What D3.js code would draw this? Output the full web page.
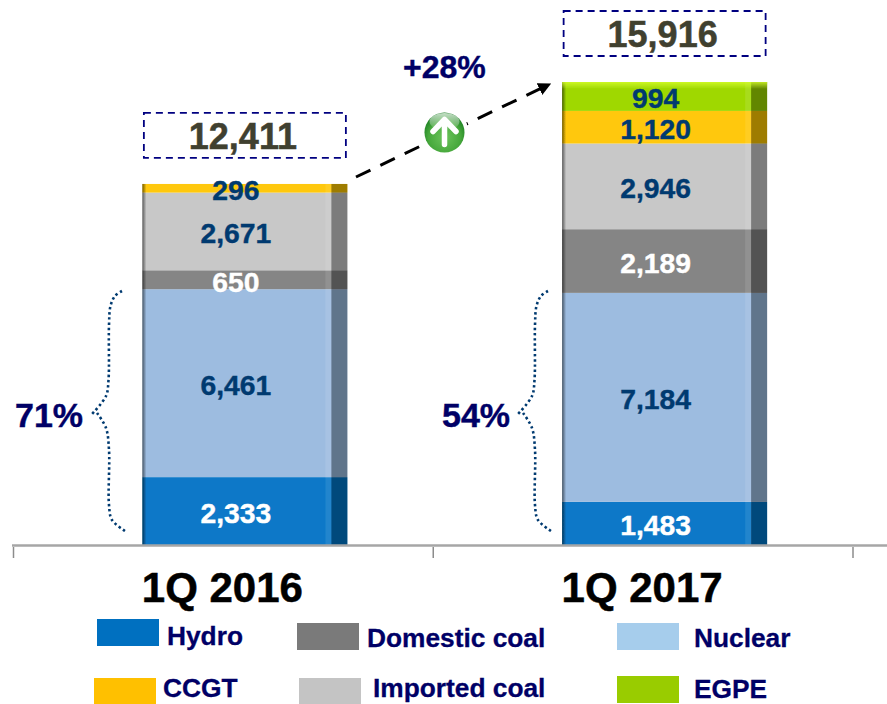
<!DOCTYPE html>
<html>
<head>
<meta charset="utf-8">
<script src="https://cdn.jsdelivr.net/npm/d3@7"></script>
<style>
	html, body { margin: 0; padding: 0; background: #fff; }
	svg { display: block; }
	text { font-family: "Liberation Sans", Arial, sans-serif; font-weight: bold; }
</style>
</head>
<body>
<div id="chart"></div>
<script>
// data
const quarters = ["1Q 2016", "1Q 2017"];
const sources = ["Hydro", "Nuclear", "Domestic coal", "Imported coal", "CCGT", "EGPE"];
const hydro = [2333, 1483];
const nuclear = [6461, 7184];
const domesticCoal = [650, 2189];
const importedCoal = [2671, 2946];
const ccgt = [296, 1120];
const egpe = [0, 994];
const totals = [12411, 15916];
const shares = ["71%", "54%"];
const growth = "+28%";

const barColors = ["#0a78c8", "#9dbce0", "#858585", "#c8c8c8", "#ffc808", "#9fd800"];
const labelColors = ["#fff", "#003a70", "#fff", "#003a70", "#003a70", "#003a70"];
const legendColors = ["#0070c0", "#a6cdec", "#7a7a7a", "#c4c4c4", "#ffc000", "#99cc00"];

const width = 887, height = 704;
const svg = d3.select("#chart").append("svg")
	.attr("width", width)
	.attr("height", height);

const defs = svg.append("defs");

// the reference is a soft bitmap, blur the bars a little
defs.append("filter").attr("id", "soft")
	.attr("x", "-5%").attr("y", "-5%").attr("width", "110%").attr("height", "110%")
	.append("feGaussianBlur").attr("stdDeviation", 0.6);

// dark soft left edge of each bar
const edge = defs.append("linearGradient").attr("id", "edge");
edge.append("stop").attr("offset", "0%").attr("stop-color", "#000").attr("stop-opacity", 0.55);
edge.append("stop").attr("offset", "100%").attr("stop-color", "#000").attr("stop-opacity", 0);

// bright strip on top of the taller bar
const topStrip = defs.append("linearGradient").attr("id", "topStrip").attr("x2", 0).attr("y2", 1);
topStrip.append("stop").attr("offset", "0%").attr("stop-color", "#d8ff30").attr("stop-opacity", 0.8);
topStrip.append("stop").attr("offset", "100%").attr("stop-color", "#d8ff30").attr("stop-opacity", 0);

// green ball of the up icon
const ball = defs.append("radialGradient").attr("id", "ball")
	.attr("cx", "50%").attr("cy", "62%").attr("r", "62%");
ball.append("stop").attr("offset", "0%").attr("stop-color", "#6cc45c");
ball.append("stop").attr("offset", "65%").attr("stop-color", "#47a83c");
ball.append("stop").attr("offset", "100%").attr("stop-color", "#157a1e");

const shine = defs.append("linearGradient").attr("id", "shine").attr("x2", 0).attr("y2", 1);
shine.append("stop").attr("offset", "0%").attr("stop-color", "#fff").attr("stop-opacity", 0.75);
shine.append("stop").attr("offset", "100%").attr("stop-color", "#fff").attr("stop-opacity", 0.05);

defs.append("marker")
	.attr("id", "head")
	.attr("viewBox", "0 0 10 10")
	.attr("refX", 9).attr("refY", 5)
	.attr("markerUnits", "userSpaceOnUse")
	.attr("markerWidth", 13).attr("markerHeight", 13)
	.attr("orient", "auto")
	.append("path")
	.attr("d", "M0,0L10,5L0,10Z")
	.attr("fill", "#000");

// scales
const baseline = 545;
const y = d3.scaleLinear().domain([0, totals[1]]).range([baseline, 82]);
const x = d3.scaleBand().domain(quarters).range([13.5, 853]);

// bars sit to the right of the centre of their band
const barWidth = 205;
const panelWidth = 16;
const barLeft = q => x(q) + x.bandwidth() / 2 - 81;

// stack
const table = quarters.map((q, i) => ({
	quarter: q,
	"Hydro": hydro[i],
	"Nuclear": nuclear[i],
	"Domestic coal": domesticCoal[i],
	"Imported coal": importedCoal[i],
	"CCGT": ccgt[i],
	"EGPE": egpe[i]
}));
const segments = d3.stack().keys(sources)(table).flatMap((layer, k) =>
	layer.map(s => ({quarter: s.data.quarter, key: k, y0: s[0], y1: s[1]})).filter(s => s.y1 > s.y0));
const columns = quarters.map((q, i) => ({quarter: q, total: totals[i]}));

const barGroup = svg.append("g").attr("filter", "url(#soft)");

// bars
barGroup.selectAll("rect.seg")
	.data(segments)
	.join("rect")
	.attr("class", "seg")
	.attr("x", d => barLeft(d.quarter))
	.attr("y", d => y(d.y1))
	.attr("width", barWidth)
	.attr("height", d => y(d.y0) - y(d.y1))
	.attr("fill", d => barColors[d.key]);

// 3d shading over each whole bar
const shade = barGroup.append("g").selectAll("g")
	.data(columns)
	.join("g");

shade.append("rect")
	.attr("x", d => barLeft(d.quarter) + barWidth - panelWidth)
	.attr("y", d => y(d.total))
	.attr("width", panelWidth)
	.attr("height", d => baseline - y(d.total))
	.attr("fill", "#000")
	.attr("opacity", 0.38);

shade.append("rect")
	.attr("x", d => barLeft(d.quarter) + barWidth - panelWidth - 6)
	.attr("y", d => y(d.total))
	.attr("width", 6)
	.attr("height", d => baseline - y(d.total))
	.attr("fill", "#fff")
	.attr("opacity", 0.1);

shade.append("rect")
	.attr("x", d => barLeft(d.quarter))
	.attr("y", d => y(d.total))
	.attr("width", 4)
	.attr("height", d => baseline - y(d.total))
	.attr("fill", "url(#edge)");

shade.filter(d => d.quarter == quarters[1]).append("rect")
	.attr("x", d => barLeft(d.quarter))
	.attr("y", d => y(d.total))
	.attr("width", barWidth)
	.attr("height", 7)
	.attr("fill", "url(#topStrip)");

// value labels
svg.append("g").selectAll("text")
	.data(segments)
	.join("text")
	.attr("x", d => barLeft(d.quarter) + barWidth / 2 - 9)
	.attr("y", d => (y(d.y0) + y(d.y1)) / 2 + 12)
	.attr("text-anchor", "middle")
	.attr("font-size", 28.3)
	.attr("fill", d => labelColors[d.key])
	.attr("stroke", d => labelColors[d.key])
	.attr("stroke-width", 0.4)
	.text(d => d3.format(",")(d.y1 - d.y0));

// total boxes
const totalGroup = svg.append("g").selectAll("g")
	.data(columns)
	.join("g");

totalGroup.append("rect")
	.attr("x", d => barLeft(d.quarter) + 1.5)
	.attr("y", d => y(d.total) - 71)
	.attr("width", barWidth - 3)
	.attr("height", 45)
	.attr("fill", "none")
	.attr("stroke", "#000080")
	.attr("stroke-width", 1.8)
	.attr("stroke-dasharray", "7 5");

totalGroup.append("text")
	.attr("x", d => barLeft(d.quarter) + barWidth / 2 - 2)
	.attr("y", d => y(d.total) - 35)
	.attr("text-anchor", "middle")
	.attr("font-size", 36)
	.attr("fill", "#40402f")
	.attr("stroke", "#40402f")
	.attr("stroke-width", 0.5)
	.text(d => d3.format(",")(d.total));

// axis line and ticks at the band edges
svg.append("line")
	.attr("x1", 12).attr("x2", width)
	.attr("y1", baseline + 0.5).attr("y2", baseline + 0.5)
	.attr("stroke", "#a6a6a6")
	.attr("stroke-width", 2.5);

svg.append("g").selectAll("line")
	.data(x.domain().map(q => x(q)).concat([x.range()[1]]))
	.join("line")
	.attr("x1", d => d).attr("x2", d => d)
	.attr("y1", baseline + 2).attr("y2", baseline + 13)
	.attr("stroke", "#8c8c8c")
	.attr("stroke-width", 1.5);

const xAxis = d3.axisBottom(x).tickSize(0).tickPadding(27);
const axisGroup = svg.append("g")
	.attr("transform", "translate(0," + baseline + ")")
	.call(xAxis);
axisGroup.select(".domain").remove();
axisGroup.selectAll("text")
	.style("font-family", '"Liberation Sans", Arial, sans-serif')
	.style("font-weight", "bold")
	.style("font-size", "42px")
	.attr("dx", -1)
	.attr("fill", "#000")
	.attr("stroke", "#000")
	.attr("stroke-width", 0.5);

// dotted braces with the share of the two lower segments
const brace = d3.line().curve(d3.curveCatmullRom.alpha(0.5));
const braceShapes = [
	[[122, 291], [115, 296], [110.5, 306], [109, 325], [108.5, 380], [106, 396], [92, 414]],
	[[97, 413], [106, 428], [109, 450], [109, 505], [112, 520], [125, 531]]
];
const braceShift = [0, 426];
const shareX = [15, 442];
quarters.forEach(function (q, i) {
	braceShapes.forEach(function (pts) {
		svg.append("path")
			.attr("d", brace(pts.map(p => [p[0] + braceShift[i], p[1]])))
			.attr("fill", "none")
			.attr("stroke", "#003a70")
			.attr("stroke-width", 2.6)
			.attr("stroke-dasharray", "2.4 2.8");
	});
	svg.append("text")
		.attr("x", shareX[i])
		.attr("y", 427)
		.attr("font-size", 34)
		.attr("fill", "#000066")
		.attr("stroke", "#000066")
		.attr("stroke-width", 0.4)
		.text(shares[i]);
});

// growth arrow
svg.append("line")
	.attr("x1", 356).attr("y1", 177)
	.attr("x2", 550).attr("y2", 84)
	.attr("stroke", "#000")
	.attr("stroke-width", 3)
	.attr("stroke-dasharray", "16 11")
	.attr("marker-end", "url(#head)");

svg.append("text")
	.attr("x", 403).attr("y", 78)
	.attr("font-size", 32)
	.attr("fill", "#000066")
	.attr("stroke", "#000066")
	.attr("stroke-width", 0.4)
	.text(growth);

// up icon
const icon = svg.append("g").attr("transform", "translate(444.5,132.5)");
icon.append("circle").attr("r", 24).attr("fill", "#fff");
icon.append("circle").attr("r", 20).attr("fill", "url(#ball)");
icon.append("ellipse").attr("cy", -11).attr("rx", 15).attr("ry", 8.5).attr("fill", "url(#shine)");
icon.append("path")
	.attr("d", "M0,12V-13M-11.5,-1L0,-13L11.5,-1")
	.attr("fill", "none")
	.attr("stroke", "#fff")
	.attr("stroke-width", 5.5)
	.attr("stroke-linecap", "round")
	.attr("stroke-linejoin", "round");

// legend
const legendSwatchX = [97, 617, 297, 299, 94, 617];
const legendSwatchY = [619, 623, 623, 678, 678, 676];
const legendTextX = [167, 694, 367, 373, 163, 694];
const legendTextY = [645, 647, 647, 697, 697, 698];

const legend = svg.append("g").selectAll("g")
	.data(sources)
	.join("g");

legend.append("rect")
	.attr("x", (d, i) => legendSwatchX[i])
	.attr("y", (d, i) => legendSwatchY[i])
	.attr("width", 62)
	.attr("height", 27)
	.attr("fill", (d, i) => legendColors[i]);

legend.append("text")
	.attr("x", (d, i) => legendTextX[i])
	.attr("y", (d, i) => legendTextY[i])
	.attr("font-size", 26.3)
	.attr("fill", "#000066")
	.attr("stroke", "#000066")
	.attr("stroke-width", 0.3)
	.text(d => d);
</script>
</body>
</html>
